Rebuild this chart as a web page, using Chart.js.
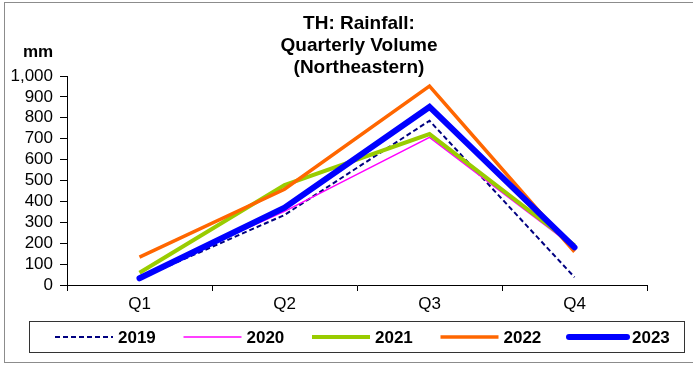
<!DOCTYPE html>
<html>
<head>
<meta charset="utf-8">
<script src="https://cdn.jsdelivr.net/npm/chart.js@4/dist/chart.umd.min.js"></script>
<style>
  html, body { margin: 0; padding: 0; background: #fff; }
  #wrap { width: 693px; height: 365px; position: relative; }
</style>
</head>
<body>
<div id="wrap"><canvas id="RainChart"></canvas></div>
<script>
const quarters = ['Q1', 'Q2', 'Q3', 'Q4'];
const years = ['2019', '2020', '2021', '2022', '2023'];
const rain2019 = [30, 335, 786, 37];
const rain2020 = [40, 352, 706, 180];
const rain2021 = [59, 478, 722, 190];
const rain2022 = [133, 458, 952, 159];
const rain2023 = [32, 370, 852, 180];
const titleLines = ['TH: Rainfall:', 'Quarterly Volume', '(Northeastern)'];
const unitLabel = 'mm';

const FONT = "'Liberation Sans', Arial, sans-serif";

const styles = [
  { color: '#000080', width: 2, dash: [5, 3] },
  { color: '#ff00ff', width: 1.5, dash: [] },
  { color: '#99cc00', width: 4, dash: [] },
  { color: '#ff6600', width: 3.5, dash: [] },
  { color: '#0000ff', width: 6, dash: [] }
];
const series = [rain2019, rain2020, rain2021, rain2022, rain2023];

const datasets = series.map((vals, i) => ({
  label: years[i],
  data: vals,
  borderColor: styles[i].color,
  backgroundColor: styles[i].color,
  borderWidth: styles[i].width,
  borderDash: styles[i].dash,
  pointRadius: 0,
  tension: 0,
  fill: false,
  borderCapStyle: i === 4 ? 'round' : 'butt',
  borderJoinStyle: 'miter',
  order: 5 - i
}));

// title, unit, frame and boxed legend
const decorations = {
  id: 'decorations',
  afterDraw(chart) {
    const { ctx, chartArea } = chart;
    ctx.save();
    // outer frame
    ctx.strokeStyle = '#8c8c8c';
    ctx.lineWidth = 1;
    ctx.strokeRect(4.5, 2.5, 692, 360);

    // title
    ctx.fillStyle = '#000';
    ctx.textAlign = 'center';
    ctx.textBaseline = 'alphabetic';
    ctx.font = 'bold 19px ' + FONT;
    const cx = (chartArea.left + chartArea.right) / 2 + 2;
    titleLines.forEach((t, i) => ctx.fillText(t, cx, 29 + i * 22));

    // unit label
    ctx.font = 'bold 17px ' + FONT;
    ctx.fillText(unitLabel, 38, 57);

    // legend
    ctx.strokeStyle = '#333';
    ctx.strokeRect(29.5, 321.5, 655, 31);
    ctx.font = 'bold 17px ' + FONT;
    ctx.textAlign = 'left';
    ctx.textBaseline = 'middle';
    const ly = 337;
    chart.data.datasets.forEach((ds, i) => {
      const x0 = 55 + i * 128.5;
      ctx.beginPath();
      ctx.strokeStyle = ds.borderColor;
      ctx.lineWidth = ds.borderWidth;
      ctx.setLineDash(ds.borderDash);
      ctx.lineCap = ds.borderCapStyle;
      ctx.moveTo(x0, ly);
      ctx.lineTo(x0 + 58, ly);
      ctx.stroke();
      ctx.setLineDash([]);
      ctx.fillStyle = '#000';
      ctx.fillText(ds.label, x0 + 63, ly + 1);
    });
    ctx.restore();
  }
};

new Chart(document.getElementById('RainChart').getContext('2d'), {
  type: 'line',
  data: { labels: quarters, datasets: datasets },
  options: {
    responsive: true,
    maintainAspectRatio: false,
    animation: false,
    layout: { padding: { left: 0, right: 46, top: 76, bottom: 50 } },
    plugins: {
      legend: { display: false },
      title: { display: false },
      tooltip: { enabled: false }
    },
    scales: {
      x: {
        offset: true,
        grid: { offset: true, drawOnChartArea: false, drawTicks: true, tickLength: 6, color: '#000' },
        border: { color: '#000', width: 1 },
        ticks: { color: '#000', font: { family: FONT, size: 17 }, padding: 3 },
        afterFit(scale) { scale.height = 30; }
      },
      y: {
        min: 0,
        max: 1000,
        grid: { drawOnChartArea: false, drawTicks: true, tickLength: 7, color: '#000' },
        border: { color: '#000', width: 1 },
        ticks: { stepSize: 100, autoSkip: false, color: '#000', font: { family: FONT, size: 17 }, padding: 7 },
        afterFit(scale) { scale.width = 67; }
      }
    }
  },
  plugins: [decorations]
});
</script>
</body>
</html>
